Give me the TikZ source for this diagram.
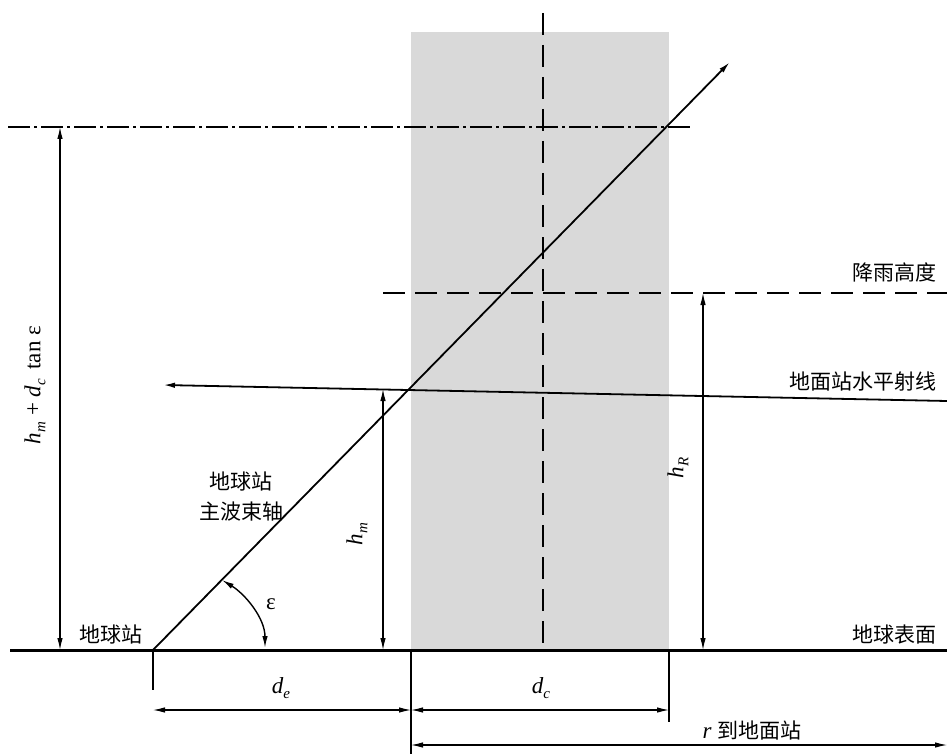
\documentclass[tikz,border=0pt]{standalone}
\usepackage{fontspec}
\setmainfont{Liberation Serif}
\newfontfamily\cjk{Noto Sans CJK SC}
\usetikzlibrary{arrows.meta}
\definecolor{raingray}{HTML}{D9D9D9}
\newcommand\mysub[2]{\textit{#1}\raisebox{-5pt}{\fontsize{15}{15}\selectfont\textit{#2}}}
\begin{document}
\begin{tikzpicture}[x=1pt,y=-1pt,
  tipA/.style={-{Latex[length=12pt,width=5.5pt]}},
  dim/.style={{Latex[length=12pt,width=5.5pt]}-{Latex[length=12pt,width=5.5pt]}, line width=1.1pt},
  ext/.style={line width=1.1pt},
  dashline/.style={line width=2.4pt, dash pattern=on 22pt off 10pt},
  dashdot/.style={line width=2.4pt, dash pattern=on 22pt off 4pt on 3pt off 4pt},
  cjklabel/.style={font=\cjk\fontsize{21}{24}\selectfont, inner sep=0pt},
  mathlabel/.style={font=\fontsize{23}{25}\selectfont, inner sep=0pt}]
\useasboundingbox (0,0) rectangle (947,754);
% rain region
\fill[raingray] (411,32) rectangle (669,650);
% coordinates
\coordinate (O) at (153,650);
\coordinate (Tip) at (730,62);
\coordinate (GL) at (10,650);
\coordinate (GR) at (947,650);
\coordinate (CTop) at (543,13);
\coordinate (CBot) at (543,650);
\coordinate (DDL) at (8,127);
\coordinate (DDR) at (692,127);
\coordinate (RL) at (383,293);
\coordinate (RR) at (947,293);
\coordinate (HR) at (947,401);
\coordinate (HL) at (163,385);
% lines
\draw[dashline] (CTop) -- (CBot);
\draw[dashdot] (DDL) -- (DDR);
\draw[dashline] (RL) -- (RR);
\draw[line width=1.8pt, tipA] (HR) -- (HL);
\draw[line width=1.8pt, tipA] (O) -- (Tip);
\draw[line width=3pt] (GL) -- (GR);
% epsilon arc
\coordinate (EA) at (222,580);
\coordinate (EB) at (265,648);
\draw[line width=1.4pt, {Latex[length=12pt,width=5.5pt]}-{Latex[length=12pt,width=5.5pt]}] (EA) .. controls (245,594) and (265,618) .. (EB);
\node[mathlabel] (eps) at (271,604) {ε};
% vertical dims
\coordinate (V1b) at (60,650);
\coordinate (V1t) at (60,127);
\draw[dim] (V1b) -- (V1t);
\node[mathlabel, rotate=90] (lab1) at (35,385) {\mysub{h}{m} + \mysub{d}{c}\, tan ε};
\coordinate (V2b) at (383,650);
\coordinate (V2t) at (383,389);
\draw[dim] (V2b) -- (V2t);
\node[mathlabel, rotate=90] (lab2) at (357,534) {\mysub{h}{m}};
\coordinate (V3b) at (703,650);
\coordinate (V3t) at (703,293);
\draw[dim] (V3b) -- (V3t);
\node[mathlabel, rotate=90] (lab3) at (678,468) {\mysub{h}{R}};
% extension lines
\coordinate (E1t) at (153,650); \coordinate (E1b) at (153,690);
\coordinate (E2t) at (411,650); \coordinate (E2b) at (411,754);
\coordinate (E3t) at (669,650); \coordinate (E3b) at (669,722);
\draw[ext] (E1t) -- (E1b);
\draw[ext] (E2t) -- (E2b);
\draw[ext] (E3t) -- (E3b);
% horizontal dims
\coordinate (D1a) at (153,710); \coordinate (D1b) at (411,710);
\coordinate (D2a) at (411,710); \coordinate (D2b) at (669,710);
\coordinate (D3a) at (411,745); \coordinate (D3b) at (947,745);
\draw[dim] (D1a) -- (D1b);
\draw[dim] (D2a) -- (D2b);
\draw[dim] (D3a) -- (D3b);
\node[mathlabel] (de) at (281,688) {\mysub{d}{e}};
\node[mathlabel] (dc) at (541,688) {\mysub{d}{c}};
\node[inner sep=0pt] (rlab) at (752,731) {\fontsize{23}{25}\selectfont\textit{r} \cjk\fontsize{21}{24}\selectfont 到地面站};
% text labels
\node[cjklabel] (es) at (111,635) {地球站};
\node[cjklabel, align=center] (beam) at (241,497) {地球站\\[6pt]主波束轴};
\node[cjklabel, anchor=east] (rainh) at (937,272) {降雨高度};
\node[cjklabel, anchor=east] (hray) at (937,382) {地面站水平射线};
\node[cjklabel, anchor=east] (surf) at (937,635) {地球表面};
\end{tikzpicture}
\end{document}
